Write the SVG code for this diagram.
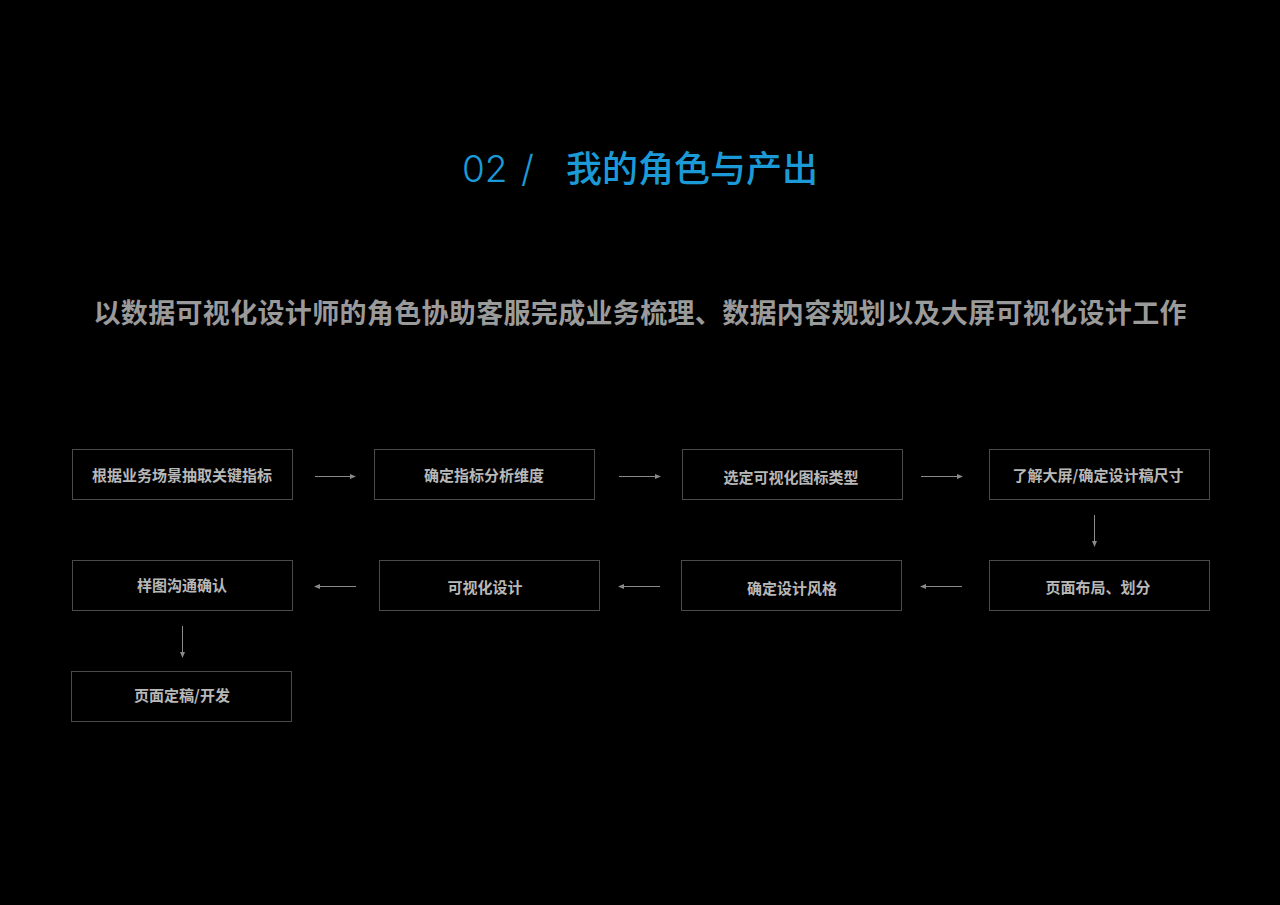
<svg xmlns="http://www.w3.org/2000/svg" width="1280" height="905" viewBox="0 0 1280 905">
<defs>
<marker id="ah" viewBox="0 0 6 6" refX="5" refY="3" markerWidth="6" markerHeight="6" markerUnits="userSpaceOnUse" orient="auto">
<path d="M0,0.5 L6,3 L0,5.5 Z" fill="#8a8a8a"/>
</marker>
<style>
.box{fill:#000;stroke:#4a4a4a;stroke-width:1}
.lbl{font-family:"Noto Sans CJK SC","Liberation Sans",sans-serif;font-size:15px;font-weight:bold;fill:#b8b8b8;text-anchor:middle;dominant-baseline:central}
.arr{stroke:#8a8a8a;stroke-width:1;fill:none;marker-end:url(#ah)}
</style>
</defs>
<rect x="0" y="0" width="1280" height="905" fill="#000"/>
<g id="title">
<text x="462" y="182" font-family="Inter,Liberation Sans,sans-serif" font-size="37" font-weight="300" fill="#1b9ad7">02</text>
<text x="521" y="182" font-family="Inter,Liberation Sans,sans-serif" font-size="37" font-weight="300" fill="#1b9ad7">/</text>
<text x="566" y="182" font-family="Noto Sans CJK SC,sans-serif" font-size="36" font-weight="500" fill="#1b9ad7" textLength="252">我的角色与产出</text>
</g>
<g id="subtitle">
<text x="640" y="311" font-family="Noto Sans CJK SC,sans-serif" font-size="27" font-weight="bold" fill="#9a9a9a" text-anchor="middle" dominant-baseline="central" textLength="1093">以数据可视化设计师的角色协助客服完成业务梳理、数据内容规划以及大屏可视化设计工作</text>
</g>
<g id="n1"><rect class="box" x="72.5" y="449.5" width="220" height="50"/><text class="lbl" x="182" y="474">根据业务场景抽取关键指标</text></g>
<g id="n2"><rect class="box" x="374.5" y="449.5" width="220" height="50"/><text class="lbl" x="484" y="474">确定指标分析维度</text></g>
<g id="n3"><rect class="box" x="682.5" y="449.5" width="220" height="50"/><text class="lbl" x="791" y="476">选定可视化图标类型</text></g>
<g id="n4"><rect class="box" x="989.5" y="449.5" width="220" height="50"/><text class="lbl" x="1098" y="474">了解大屏/确定设计稿尺寸</text></g>
<g id="n5"><rect class="box" x="989.5" y="560.5" width="220" height="50"/><text class="lbl" x="1098" y="586">页面布局、划分</text></g>
<g id="n6"><rect class="box" x="681.5" y="560.5" width="220" height="50"/><text class="lbl" x="792" y="587">确定设计风格</text></g>
<g id="n7"><rect class="box" x="379.5" y="560.5" width="220" height="50"/><text class="lbl" x="485" y="586">可视化设计</text></g>
<g id="n8"><rect class="box" x="72.5" y="560.5" width="220" height="50"/><text class="lbl" x="182" y="584">样图沟通确认</text></g>
<g id="n9"><rect class="box" x="71.5" y="671.5" width="220" height="50"/><text class="lbl" x="182" y="694">页面定稿/开发</text></g>
<g id="connectors">
<line class="arr" x1="315" y1="476.5" x2="355" y2="476.5"/>
<line class="arr" x1="619" y1="476.5" x2="660" y2="476.5"/>
<line class="arr" x1="921" y1="476.5" x2="962" y2="476.5"/>
<line class="arr" x1="1094.5" y1="515" x2="1094.5" y2="546"/>
<line class="arr" x1="962" y1="586.5" x2="921" y2="586.5"/>
<line class="arr" x1="660" y1="586.5" x2="619" y2="586.5"/>
<line class="arr" x1="356" y1="586.5" x2="315" y2="586.5"/>
<line class="arr" x1="182.5" y1="626" x2="182.5" y2="657"/>
</g>
</svg>
